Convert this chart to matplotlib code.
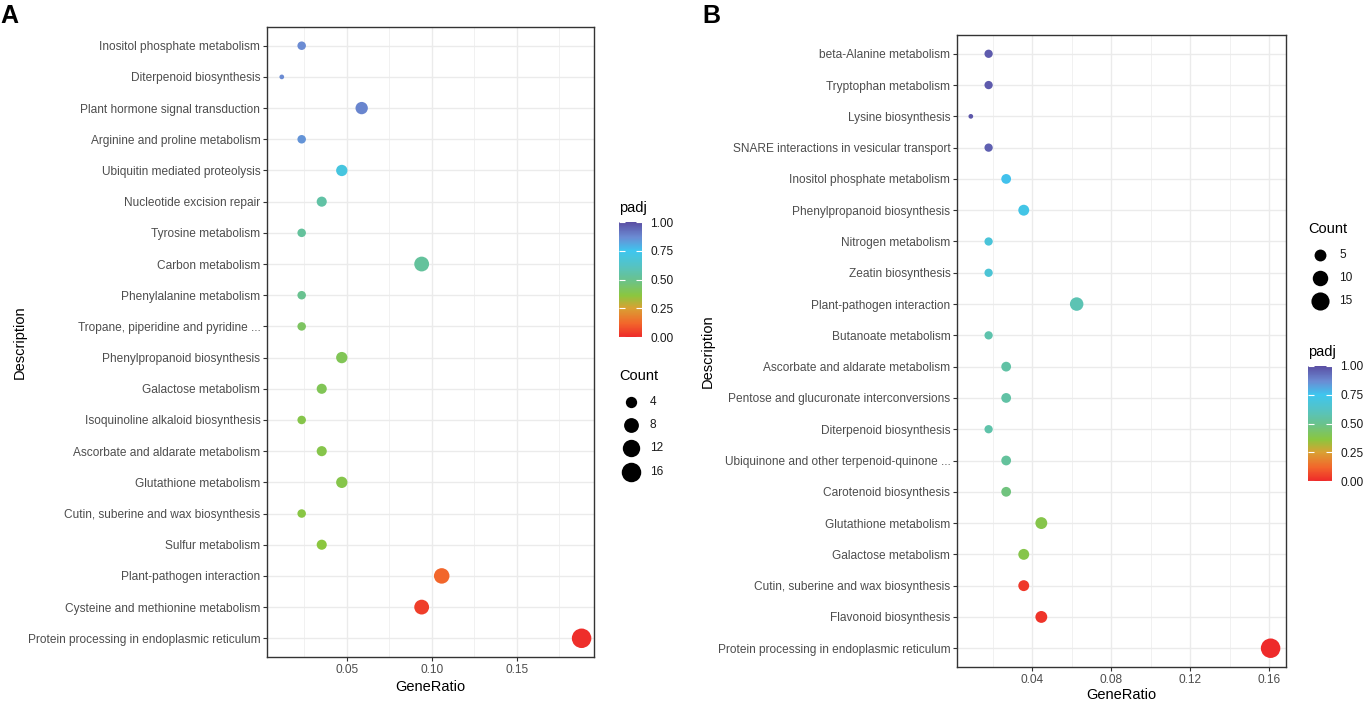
import numpy as np
import matplotlib
matplotlib.use("Agg")
import matplotlib.pyplot as plt
from matplotlib.colors import LinearSegmentedColormap, Normalize
from matplotlib.lines import Line2D
from matplotlib.ticker import MultipleLocator

plt.rcParams['font.family'] = ['Liberation Sans', 'DejaVu Sans']

# Panel A data (top row first)
terms_a = ['Inositol phosphate metabolism', 'Diterpenoid biosynthesis',
           'Plant hormone signal transduction', 'Arginine and proline metabolism',
           'Ubiquitin mediated proteolysis', 'Nucleotide excision repair',
           'Tyrosine metabolism', 'Carbon metabolism', 'Phenylalanine metabolism',
           'Tropane, piperidine and pyridine ...', 'Phenylpropanoid biosynthesis',
           'Galactose metabolism', 'Isoquinoline alkaloid biosynthesis',
           'Ascorbate and aldarate metabolism', 'Glutathione metabolism',
           'Cutin, suberine and wax biosynthesis', 'Sulfur metabolism',
           'Plant-pathogen interaction', 'Cysteine and methionine metabolism',
           'Protein processing in endoplasmic reticulum']
ratio_a = [0.0235, 0.0118, 0.0588, 0.0235, 0.0471, 0.0353, 0.0235, 0.0941, 0.0235, 0.0235,
           0.0471, 0.0353, 0.0235, 0.0353, 0.0471, 0.0235, 0.0353, 0.1059, 0.0941, 0.1882]
count_a = [2, 1, 5, 2, 4, 3, 2, 8, 2, 2, 4, 3, 2, 3, 4, 2, 3, 9, 8, 16]
padj_a = [0.87, 0.87, 0.88, 0.85, 0.70, 0.55, 0.53, 0.53, 0.50, 0.42,
          0.40, 0.40, 0.38, 0.38, 0.38, 0.37, 0.36, 0.12, 0.04, 0.01]

# Panel B data (top row first)
terms_b = ['beta-Alanine metabolism', 'Tryptophan metabolism', 'Lysine biosynthesis',
           'SNARE interactions in vesicular transport', 'Inositol phosphate metabolism',
           'Phenylpropanoid biosynthesis', 'Nitrogen metabolism', 'Zeatin biosynthesis',
           'Plant-pathogen interaction', 'Butanoate metabolism',
           'Ascorbate and aldarate metabolism', 'Pentose and glucuronate interconversions',
           'Diterpenoid biosynthesis', 'Ubiquinone and other terpenoid-quinone ...',
           'Carotenoid biosynthesis', 'Glutathione metabolism', 'Galactose metabolism',
           'Cutin, suberine and wax biosynthesis', 'Flavonoid biosynthesis',
           'Protein processing in endoplasmic reticulum']
ratio_b = [0.0179, 0.0179, 0.0089, 0.0179, 0.0268, 0.0357, 0.0179, 0.0179, 0.0625, 0.0179,
           0.0268, 0.0268, 0.0179, 0.0268, 0.0268, 0.0446, 0.0357, 0.0357, 0.0446, 0.1607]
count_b = [2, 2, 1, 2, 3, 4, 2, 2, 7, 2, 3, 3, 2, 3, 3, 5, 4, 4, 5, 18]
padj_b = [0.97, 0.97, 0.98, 0.96, 0.76, 0.72, 0.68, 0.67, 0.58, 0.57,
          0.55, 0.55, 0.56, 0.53, 0.47, 0.38, 0.38, 0.03, 0.02, 0.00]

legend_a = [4, 8, 12, 16]
legend_b = [5, 10, 15]
padj_ticks = [0.00, 0.25, 0.50, 0.75, 1.00]

cmap = LinearSegmentedColormap.from_list('padj', [
    (0.0, '#ee2a2a'), (0.12, '#f2672b'), (0.25, '#d9a133'), (0.36, '#8bc63f'),
    (0.5, '#69c28f'), (0.62, '#55c3c4'), (0.75, '#3ec6ef'), (0.87, '#6b8bd3'),
    (1.0, '#5a4ea3')])
norm = Normalize(0, 1)

W, H = 1367, 706
fig = plt.figure(figsize=(W / 100, H / 100), dpi=100)


def px_box(l, t, r, b):
    return [l / W, 1 - b / H, (r - l) / W, (b - t) / H]


def diam(c, cmin, cmax):
    # ggplot-style area scale, diameter in pixels -> points
    d = 1.74 + 2.96 * (1 + 5 * np.sqrt((np.asarray(c) - cmin) / (cmax - cmin)))
    return d * 0.72


def panel(box, terms, ratio, count, padj, xlim, major, minor):
    ax = fig.add_axes(box)
    y = np.arange(len(terms))[::-1]
    cmin, cmax = min(count), max(count)
    ax.set_axisbelow(True)
    ax.scatter(ratio, y, s=diam(count, cmin, cmax) ** 2, c=padj, cmap=cmap, norm=norm,
               linewidths=0, zorder=3)
    ax.set_yticks(y)
    ax.set_yticklabels(terms, fontsize=8.6, color='#4d4d4d')
    ax.set_ylim(-0.6, len(terms) - 0.4)
    ax.set_xlim(*xlim)
    ax.xaxis.set_major_locator(MultipleLocator(major))
    ax.xaxis.set_minor_locator(MultipleLocator(minor))
    ax.grid(True, which='major', color='#ebebeb', lw=1.0)
    ax.grid(True, which='minor', axis='x', color='#ebebeb', lw=0.5)
    ax.tick_params(axis='both', which='major', length=2.8, width=0.8, color='#333333',
                   labelsize=8.6, labelcolor='#4d4d4d', pad=2)
    ax.tick_params(axis='x', which='minor', length=0)
    for sp in ax.spines.values():
        sp.set_color('#333333')
        sp.set_linewidth(1.0)
    return ax, cmin, cmax


axA, cminA, cmaxA = panel(px_box(267, 27, 594, 657), terms_a, ratio_a, count_a, padj_a,
                          (0.0031, 0.1955), 0.05, 0.025)
axA.set_xticks([0.05, 0.10, 0.15])
axA.set_xticklabels(['0.05', '0.10', '0.15'])
axB, cminB, cmaxB = panel(px_box(957, 35, 1286, 667), terms_b, ratio_b, count_b, padj_b,
                          (0.0019, 0.1685), 0.04, 0.02)
axB.set_xticks([0.04, 0.08, 0.12, 0.16])
axB.set_xticklabels(['0.04', '0.08', '0.12', '0.16'])

# axis titles and panel letters
fig.text(430 / W, 1 - 687 / H, 'GeneRatio', ha='center', va='center', fontsize=10.5)
fig.text(1121 / W, 1 - 695 / H, 'GeneRatio', ha='center', va='center', fontsize=10.5)
fig.text(20 / W, 1 - 342 / H, 'Description', ha='center', va='center', rotation=90, fontsize=10.5)
fig.text(708 / W, 1 - 351 / H, 'Description', ha='center', va='center', rotation=90, fontsize=10.5)
fig.text(0 / W, 1 - 16 / H, 'A', ha='left', va='center', fontsize=18, fontweight='bold')
fig.text(702 / W, 1 - 16 / H, 'B', ha='left', va='center', fontsize=18, fontweight='bold')


def colorbar(box, title_xy):
    cax = fig.add_axes(box)
    cb = fig.colorbar(plt.cm.ScalarMappable(norm=norm, cmap=cmap), cax=cax)
    cb.outline.set_visible(False)
    cb.set_ticks(padj_ticks)
    cb.set_ticklabels(['%.2f' % t for t in padj_ticks])
    cax.tick_params(direction='in', color='white', length=4, width=0.8, left=True,
                    right=True, labelsize=8.6, labelcolor='#1a1a1a', pad=6)
    fig.text(title_xy[0] / W, 1 - title_xy[1] / H, 'padj', ha='left', va='center', fontsize=10.5)


def count_legend(title_xy, xs, ys, vals, cmin, cmax):
    fig.text(title_xy[0] / W, 1 - title_xy[1] / H, 'Count', ha='left', va='center', fontsize=10.5)
    for v, yy in zip(vals, ys):
        fig.add_artist(Line2D([xs / W], [1 - yy / H], marker='o', ls='none', color='black',
                              markersize=diam(v, cmin, cmax), markeredgewidth=0,
                              transform=fig.transFigure))
        fig.text((xs + 19) / W, 1 - yy / H, str(v), ha='left', va='center', fontsize=8.6,
                 color='#1a1a1a')


colorbar(px_box(619, 222, 642, 337), (619, 208))
count_legend((619, 376), 631, [402, 425, 448, 472], legend_a, cminA, cmaxA)

count_legend((1308, 229), 1320, [255, 278, 301], legend_b, cminB, cmaxB)
colorbar(px_box(1308, 366, 1332, 481), (1308, 352))

fig.savefig('out.png', dpi=100)
